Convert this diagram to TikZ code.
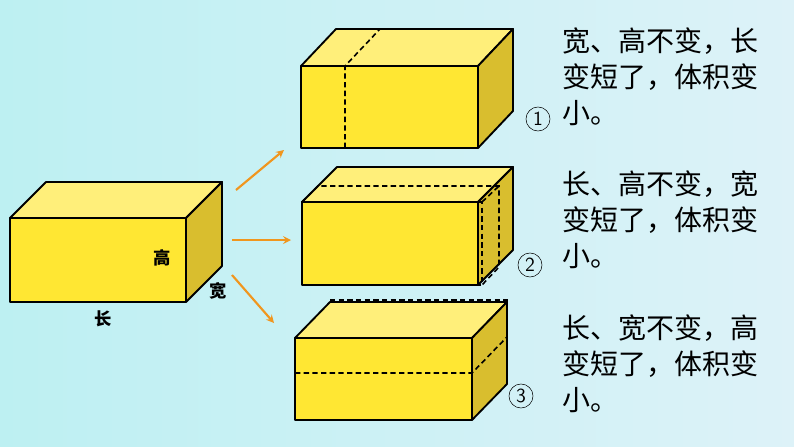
\documentclass[tikz,border=0pt]{standalone}
\usepackage{fontspec}
\newfontfamily\cjk{Noto Sans CJK SC}
\usetikzlibrary{calc,positioning}
\definecolor{frontc}{HTML}{FFE733}
\definecolor{topc}{HTML}{FFEF7A}
\definecolor{sidec}{HTML}{D9BE2E}
\definecolor{arrowc}{HTML}{F0961E}
\definecolor{bgl}{HTML}{BDF0F2}
\definecolor{bgr}{HTML}{DDF2F8}
\begin{document}
\begin{tikzpicture}
      [x=0.75pt, y=-0.75pt,
        face/.style={draw=black, line width=1.4pt, line join=round},
        hidden/.style={draw=black, line width=1.2pt, dash pattern=on 4pt off 2.5pt},
        line/.style={draw=arrowc, line width=1.6pt, ->, >=stealth},
        word/.style={font=\cjk\fontsize{21pt}{27pt}\selectfont, anchor=north west, align=left, inner sep=0pt},
        dim/.style={font=\cjk\bfseries\fontsize{13pt}{13pt}\selectfont, inner sep=0pt},
        num/.style={draw, circle, thin, minimum size=18pt, inner sep=0pt, font=\sffamily\fontsize{15pt}{15pt}\selectfont}
      ]
      \shade[left color=bgl, right color=bgr] (0,0) rectangle (794,447);
      \useasboundingbox (0,0) rectangle (794,447);
      % box x1 x2 ytop ybot dx dy
      \newcommand{\cuboid}[6]{%
        \filldraw[face, fill=frontc] (#1,#3) rectangle (#2,#4);
        \filldraw[face, fill=topc] (#1,#3) -- ++(#5,#6) -- ($(#2,#3)+(#5,#6)$) -- (#2,#3) -- cycle;
        \filldraw[face, fill=sidec] (#2,#3) -- ++(#5,#6) -- ($(#2,#4)+(#5,#6)$) -- (#2,#4) -- cycle;}
      % original box
      \cuboid{10}{186}{218}{302}{36}{-36}
      \node[dim] (h) at (162,258) {高};
      \node[dim] (w) at (218,291) {宽};
      \node[dim] (l) at (103,319) {长};
      % arrows
      \coordinate (a1) at (236,190); \coordinate (b1) at (284,150);
      \coordinate (a2) at (232,240); \coordinate (b2) at (291,240);
      \coordinate (a3) at (232,275); \coordinate (b3) at (274,323);
      \foreach \i in {1,2,3} \draw[line] (a\i) -- (b\i);
      % case 1
      \cuboid{301}{478}{66}{148}{35}{-37}
      \draw[hidden] (345,148) -- (345,66) -- (380,29) -- (513,29) -- (513,111);
      % case 2
      \cuboid{302}{478}{202}{285}{35}{-35}
      \draw[hidden] (302,285) -- (302,202) -- (482,202) -- (482,285) -- cycle;
      \draw[hidden] (302,202) -- (318,186) -- (499,186) -- (499,267) -- (482,285);
      \draw[hidden] (482,202) -- (499,186);
      % case 3
      \cuboid{295}{472}{338}{420}{35}{-36}
      \draw[hidden] (295,373) -- (472,373) -- (507,337);
      \draw[hidden] (330,300) -- (507,300) -- (507,337);
      % circled numbers
      \node[num] (n1) at (538,119) {1};
      \node[num] (n2) at (530,265) {2};
      \node[num] (n3) at (521,396) {3};
      % texts
      \node[word] (t1) at (562,27) {宽、高不变，长\\变短了，体积变\\小。};
      \node[word] (t2) at (562,170) {长、高不变，宽\\变短了，体积变\\小。};
      \node[word] (t3) at (562,314) {长、宽不变，高\\变短了，体积变\\小。};
\end{tikzpicture}
\end{document}
